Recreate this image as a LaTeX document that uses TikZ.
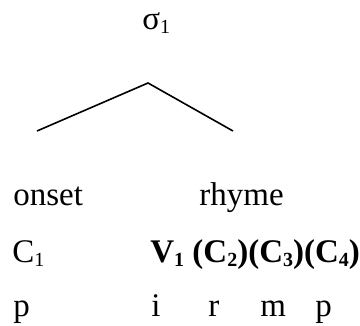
\documentclass[tikz,border=0pt]{standalone}
\usepackage{fontspec}
\setmainfont{Liberation Serif}
\usepackage{tikz}
\newcommand{\lowsub}[1]{\raisebox{-1.8pt}{\fontsize{10}{10}\selectfont #1}}

\begin{document}
\begin{tikzpicture}[x=0.5pt, y=-0.5pt,
    txt/.style={anchor=base west, inner sep=0pt, font=\fontsize{16.5}{20}\selectfont}]
  \useasboundingbox (0,0) rectangle (360,326);
  \node[txt] (syl) at (142,30) {σ\lowsub{1}};
  \coordinate (apex) at (148,83);
  \coordinate (lft) at (37,131);
  \coordinate (rgt) at (233,131);
  \draw[line width=0.8pt] (lft) -- (apex) -- (rgt);
  \node[txt] (onset) at (13,206) {onset};
  \node[txt] (rhyme) at (199,206) {rhyme};
  \node[txt] (cons) at (12,263) {C\lowsub{1}};
  \node[txt] (vowel) at (150,263) {\textbf{V\lowsub{1} (C\lowsub{2})(C\lowsub{3})(C\lowsub{4})}};
  \node[txt] (segp) at (13,317) {p};
  \node[txt] (segi) at (151,317) {i};
  \node[txt] (segr) at (208,317) {r};
  \node[txt] (segm) at (260,317) {m};
  \node[txt] (segq) at (315,317) {p};
\end{tikzpicture}
\end{document}
